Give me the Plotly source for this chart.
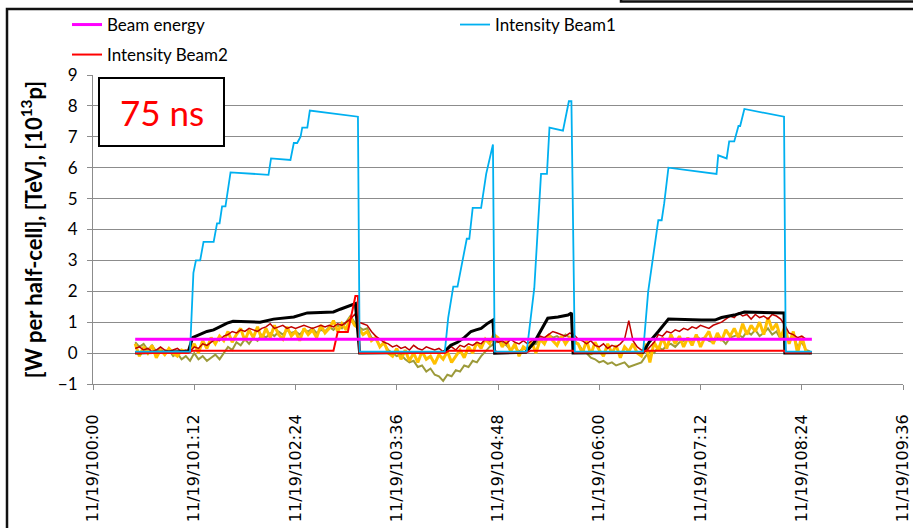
import numpy as np
import plotly.graph_objects as go

# ---------------- data ----------------
tick_hours = [0, 1.2, 2.4, 3.6, 4.8, 6.0, 7.2, 8.4, 9.6]
tick_labels = ["11/19/100:00", "11/19/101:12", "11/19/102:24", "11/19/103:36",
               "11/19/104:48", "11/19/106:00", "11/19/107:12", "11/19/108:24",
               "11/19/109:36"]

# Beam energy [TeV]
energy_t = [0.50, 8.52]
energy_v = [0.45, 0.45]

# Intensity Beam1 [1e13 p]
b1_t = [0.50, 1.15, 1.19, 1.22, 1.27, 1.31, 1.43, 1.47, 1.50, 1.53,
        1.57, 1.63, 2.08, 2.11, 2.34, 2.38, 2.42, 2.46, 2.48, 2.54,
        2.57, 3.14, 3.16, 4.17, 4.21, 4.27, 4.32, 4.43, 4.46, 4.50,
        4.60, 4.66, 4.74, 4.76, 5.14, 5.23, 5.31, 5.38, 5.41, 5.57,
        5.64, 5.67, 5.71, 6.52, 6.58, 6.70, 6.74, 6.77, 6.82, 7.39,
        7.41, 7.51, 7.54, 7.60, 7.65, 7.67, 7.72, 8.19, 8.21, 8.52]
b1_v = [0.05, 0.05, 2.6, 3.0, 3.0, 3.6, 3.6, 4.2, 4.2, 4.75,
        4.75, 5.85, 5.77, 6.3, 6.25, 6.8, 6.8, 7.0, 7.3, 7.3,
        7.85, 7.65, 0.05, 0.05, 1.15, 2.15, 2.15, 3.7, 3.7, 4.7,
        4.7, 5.8, 6.75, 0.05, 0.05, 2.1, 5.8, 5.8, 7.3, 7.2,
        8.15, 8.15, 0.05, 0.05, 2.0, 4.3, 4.3, 4.85, 6.0, 5.8,
        6.4, 6.3, 6.85, 6.85, 7.35, 7.35, 7.9, 7.65, 0.05, 0.05]

# Intensity Beam2
b2_t = [0.50, 1.13, 1.18, 2.85, 2.90, 3.02, 3.08, 3.11, 3.14, 3.16,
        4.17, 4.22, 4.76, 4.79, 5.14, 5.19, 5.69, 5.71, 6.50, 6.55,
        8.19, 8.21, 8.52]
b2_v = [0.0, 0.0, 0.08, 0.08, 0.68, 0.68, 1.45, 1.85, 1.85, 0.0,
        0.0, 0.08, 0.08, 0.03, 0.03, 0.08, 0.08, 0.02, 0.02, 0.08,
        0.08, 0.02, 0.02]

# heat load total (black)
blk_t = [0.50, 1.13, 1.18, 1.27, 1.35, 1.43, 1.51, 1.59, 1.66, 1.98,
         2.14, 2.38, 2.54, 2.85, 2.93, 3.08, 3.11, 3.16, 4.16, 4.24,
         4.32, 4.40, 4.48, 4.54, 4.60, 4.68, 4.74, 4.76, 5.13, 5.23,
         5.31, 5.39, 5.51, 5.63, 5.67, 5.69, 6.52, 6.59, 6.70, 6.82,
         7.21, 7.37, 7.45, 7.60, 7.72, 8.01, 8.19, 8.20, 8.52]
blk_v = [0.0, 0.05, 0.5, 0.6, 0.7, 0.75, 0.85, 0.97, 1.03, 1.0,
         1.1, 1.17, 1.3, 1.33, 1.42, 1.55, 1.6, 0.0, 0.03, 0.25,
         0.35, 0.5, 0.7, 0.75, 0.8, 0.97, 1.07, 0.0, 0.03, 0.35,
         0.75, 1.13, 1.17, 1.23, 1.3, 0.0, 0.03, 0.35, 0.7, 1.1,
         1.07, 1.07, 1.15, 1.23, 1.33, 1.3, 1.3, 0.0, 0.0]

# sampled heat-load signals (one value every 3 minutes from 0:30)
sample_start_h = 0.5
sample_step_h = 0.05

darkred_v = [
    0.15, 0.2, 0.1, 0.15, 0.05, 0.1, 0.2, 0.1, 0.05, 0.1, 0.15, 0.05, 0.1,
    0.05, 0.2, 0.15, 0.3, 0.25, 0.35, 0.45, 0.4,
    0.55, 0.6, 0.7, 0.65, 0.75, 0.7, 0.8, 0.75, 0.7, 0.8,
    0.85, 0.95, 0.8, 0.85, 0.9, 0.8, 0.85, 0.8, 0.85, 0.9, 0.85, 0.8, 0.85, 0.9, 0.85,
    0.9, 0.85, 0.95, 0.9, 1.0, 1.1, 1.25,
    1.0, 0.95, 0.9, 0.7, 0.55, 0.45, 0.35, 0.3,
    0.2, 0.25, 0.15, 0.2, 0.1, 0.25, 0.15, 0.1, 0.2, 0.15, 0.1, 0.15,
    0.05, 0.15, 0.2, 0.1, 0.25, 0.2, 0.3, 0.25, 0.35, 0.3, 0.45, 0.4, 0.5,
    0.35, 0.4, 0.3, 0.45, 0.35, 0.3, 0.4,
    0.3, 0.4, 0.45, 0.55, 0.5, 0.6, 0.7, 0.65, 0.6, 0.55, 0.65, 0.6,
    0.45, 0.4, 0.3, 0.4, 0.25, 0.2, 0.3, 0.15, 0.25, 0.2, 0.3, 0.45, 1.05, 0.4, 0.2,
    0.1, 0.05, 0.2, 0.35, 0.6, 0.55, 0.7, 0.65, 0.75, 0.7, 0.8,
    0.75, 0.85, 0.8, 0.9, 0.85, 0.8, 0.9, 0.95, 1.0, 1.1, 1.2, 1.15, 1.3, 1.2, 1.25,
    1.1, 1.25, 1.15, 1.2, 1.1, 1.25, 1.2, 1.1, 0.9,
    0.65, 0.6, 0.5, 0.55, 0.45, 0.45]

orange_v = [
    0.3, -0.1, 0.2, 0.0, 0.25, -0.15, 0.1, -0.05, 0.15, 0.0, -0.1, 0.1, 0.05,
    0.1, 0.3, 0.0, 0.4, 0.15, 0.5, 0.3, 0.55,
    0.4, 0.7, 0.35, 0.6, 0.8, 0.4, 0.75, 0.5, 0.85, 0.45,
    0.8, 0.5, 0.9, 0.6, 0.45, 0.85, 0.55, 0.7, 0.4, 0.8, 0.6, 0.75, 0.5, 0.9, 0.65,
    0.8, 1.05, 0.7, 0.95, 0.75, 1.15, 0.9,
    0.8, 0.6, 0.7, 0.4, 0.5, 0.2, 0.35, 0.0,
    -0.1, 0.15, -0.2, 0.1, -0.25, 0.0, -0.3, 0.05, -0.2, -0.1, -0.35, -0.05,
    -0.2, 0.05, -0.3, -0.1, 0.1, -0.15, 0.2, 0.0, 0.35, 0.15, 0.45, 0.3, 0.6,
    0.5, 0.2, 0.4, 0.05, 0.3, -0.1, 0.2,
    0.1, 0.35, 0.0, 0.45, 0.3, 0.6, 0.4, 0.25, 0.55, 0.3, 0.5, 0.35,
    0.3, 0.0, 0.4, -0.05, 0.35, 0.1, -0.1, 0.3, 0.0, 0.25, -0.15, 0.2, 0.05, 0.3, 0.0,
    -0.1, 0.3, -0.3, 0.35, 0.1, 0.5, 0.15, 0.6, 0.3, 0.55, 0.2,
    0.5, 0.25, 0.6, 0.2, 0.5, 0.7, 0.3, 0.65, 0.4, 0.75, 0.55, 0.8, 0.5, 0.95, 0.6,
    0.9, 0.7, 1.0, 0.6, 1.15, 0.75, 0.95, 0.5, 0.85,
    0.3, 0.7, 0.0, 0.55, 0.05, 0.0]

olive_v = [
    0.35, 0.2, 0.3, 0.1, 0.25, 0.05, 0.15, -0.05, 0.1, -0.1, 0.0, -0.2, -0.1,
    -0.25, 0.0, -0.2, -0.1, -0.25, -0.15, -0.05, -0.2,
    0.0, 0.2, 0.1, 0.35, 0.25, 0.45, 0.3, 0.5, 0.4, 0.6,
    0.5, 0.65, 0.55, 0.7, 0.6, 0.75, 0.65, 0.7, 0.6, 0.75, 0.7, 0.8, 0.65, 0.75, 0.7,
    0.85, 0.75, 0.9, 0.8, 1.0, 1.2, 1.0,
    0.85, 0.75, 0.8, 0.5, 0.45, 0.25, 0.3, 0.1,
    0.0, -0.1, -0.05, -0.2, -0.3, -0.25, -0.45, -0.4, -0.6, -0.5, -0.7, -0.75,
    -0.9, -0.7, -0.75, -0.55, -0.6, -0.4, -0.45, -0.25, -0.3, -0.1, 0.05, 0.2, 0.3,
    0.4, 0.35, 0.25, 0.1, 0.2, 0.05, 0.15,
    0.1, 0.25, 0.3, 0.5, 0.45, 0.6, 0.5, 0.55, 0.45, 0.6, 0.5, 0.4,
    0.3, 0.1, 0.0, -0.15, -0.2, -0.3, -0.25, -0.35, -0.3, -0.4, -0.35, -0.3, -0.45, -0.4, -0.35,
    -0.3, -0.1, 0.05, 0.0, 0.2, 0.1, 0.25, 0.3, 0.2, 0.35, 0.4,
    0.45, 0.35, 0.55, 0.45, 0.5, 0.4, 0.35, 0.5, 0.45, 0.3, 0.5, 0.55, 0.6, 0.5, 0.7,
    0.6, 0.75, 0.55, 0.65, 0.8, 0.6, 0.7, 0.45, 0.55,
    0.4, 0.6, 0.2, 0.35, 0.1, 0.05]

n = len(darkred_v)
assert n == len(orange_v) == len(olive_v) == 161
sample_t = [round(sample_start_h + i * sample_step_h, 3) for i in range(n)]

# ---------------- figure ----------------
W, H = 913, 528
L, R, T, B = 93, 10, 75, 144
pw, ph = W - L - R, H - T - B


def px(x):
    return (x - L) / pw


def py(y):
    return (H - B - y) / ph


LEG_FONT = dict(family="Lato, 'Open Sans', Arial", size=17, color="black")

fig = go.Figure()
fig.add_trace(go.Scatter(x=sample_t, y=olive_v, mode="lines",
                         line=dict(color="#9C9A3A", width=2), showlegend=False))
fig.add_trace(go.Scatter(x=sample_t, y=orange_v, mode="lines",
                         line=dict(color="#FFC000", width=3), showlegend=False))
fig.add_trace(go.Scatter(x=sample_t, y=darkred_v, mode="lines",
                         line=dict(color="#C00000", width=1.5), showlegend=False))
fig.add_trace(go.Scatter(x=blk_t, y=blk_v, mode="lines",
                         line=dict(color="black", width=3), showlegend=False))
fig.add_trace(go.Scatter(x=b2_t, y=b2_v, mode="lines", name="Intensity Beam2",
                         line=dict(color="#FF0000", width=2), legend="legend2"))
fig.add_trace(go.Scatter(x=b1_t, y=b1_v, mode="lines", name="Intensity Beam1",
                         line=dict(color="#00B0F0", width=1.8), legend="legend",
                         legendrank=2))
fig.add_trace(go.Scatter(x=energy_t, y=energy_v, mode="lines", name="Beam energy",
                         line=dict(color="#FF00FF", width=3), legend="legend",
                         legendrank=1))

shapes = [
    # outer chart frame
    dict(type="rect", xref="paper", yref="paper", x0=px(7), x1=px(930),
         y0=py(540), y1=py(9), line=dict(color="#111", width=2.5),
         fillcolor="rgba(0,0,0,0)", layer="below"),
    # top-right box (partially visible)
    dict(type="rect", xref="paper", yref="paper", x0=px(621), x1=px(930),
         y0=py(1.5), y1=py(-20), line=dict(color="#111", width=2.5),
         fillcolor="rgba(0,0,0,0)"),
    # 75 ns box
    dict(type="rect", xref="paper", yref="paper", x0=px(99), x1=px(224),
         y0=py(146), y1=py(78), line=dict(color="black", width=2),
         fillcolor="white"),
]

fig.add_annotation(x=px(161.5), y=py(112), xref="paper", yref="paper",
                   xanchor="center", yanchor="middle",
                   text="75 ns", showarrow=False,
                   font=dict(family="Lato, 'Open Sans', Arial", size=35, color="#FF0000"))

fig.update_layout(
    width=W, height=H,
    margin=dict(l=L, r=R, t=T, b=B, autoexpand=False),
    paper_bgcolor="white", plot_bgcolor="white",
    shapes=shapes,
    legend=dict(orientation="h", x=67 / W, y=1 - 25 / H, xref="container",
                yref="container", xanchor="left", yanchor="middle",
                font=LEG_FONT, itemwidth=30, entrywidth=343,
                entrywidthmode="pixels", bgcolor="rgba(0,0,0,0)",
                traceorder="normal"),
    legend2=dict(orientation="h", x=67 / W, y=1 - 55 / H, xref="container",
                 yref="container", xanchor="left", yanchor="middle",
                 font=LEG_FONT, itemwidth=30, bgcolor="rgba(0,0,0,0)"),
    xaxis=dict(range=[0, 9.6], tickmode="array", tickvals=tick_hours,
               ticktext=tick_labels, tickangle=-90, automargin=False,
               tickfont=dict(family="DejaVu Sans", size=16, color="black"),
               showgrid=False, zeroline=False, showline=True,
               linecolor="#8c8c8c", linewidth=1, ticks="outside", ticklen=5,
               tickcolor="#8c8c8c", ticklabelstandoff=18),
    yaxis=dict(range=[-1, 9], dtick=1, tick0=0, automargin=False,
               tickfont=dict(family="Lato, 'Open Sans', Arial", size=17, color="black"),
               showgrid=True, gridcolor="#8c8c8c", gridwidth=1,
               zeroline=False, showline=True, linecolor="#8c8c8c", linewidth=1,
               ticks="outside", ticklen=5, tickcolor="#8c8c8c",
               ticklabelstandoff=6,
               title=dict(text="<b>[W per half-cell], [TeV], [10<sup>13</sup>p]</b>",
                          font=dict(family="Lato, 'Open Sans', Arial", size=22,
                                    color="black"),
                          standoff=9)),
)

fig.write_html("out.html", config={"displayModeBar": False},
               post_script="document.body.style.margin='0px';")
